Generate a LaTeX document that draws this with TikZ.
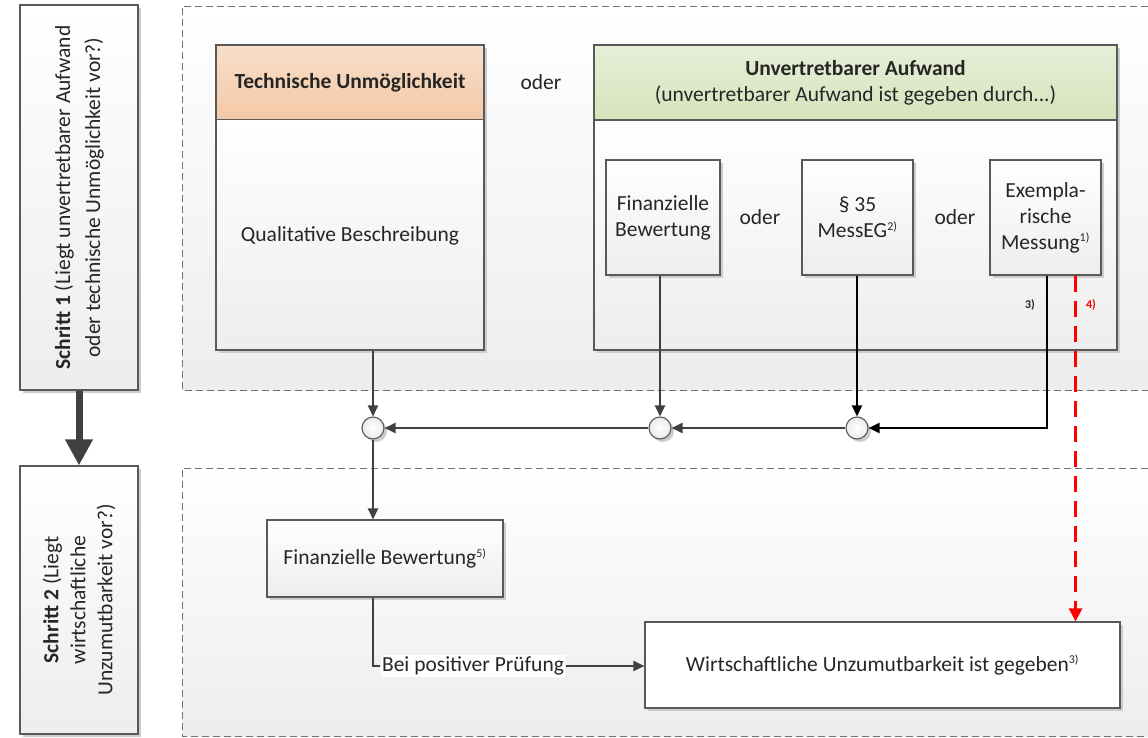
\documentclass[tikz,border=0pt]{standalone}
\usepackage{fontspec}
\setmainfont{Carlito}
\usetikzlibrary{arrows.meta,shadows,calc}
\definecolor{lc}{HTML}{404040}
\definecolor{bc}{HTML}{595959}
\definecolor{orangeh}{HTML}{F3C9A6}
\definecolor{greenh}{HTML}{D6E3BC}
\newcommand{\sups}[1]{\textsuperscript{\fontsize{12}{12}\selectfont #1}}
\begin{document}
\begin{tikzpicture}[x=1pt,y=-1pt,
  every node/.style={font=\fontsize{21.5}{26}\selectfont, text=black!85, inner sep=0pt},
  shad/.style={drop shadow={shadow xshift=3pt,shadow yshift=-3pt,fill=black!20,opacity=1}},
  box/.style={draw=bc, line width=1.1pt, top color=white, bottom color=black!7, shad, align=center},
  wbox/.style={draw=bc, line width=1.1pt, fill=white, shad, align=center},
  region/.style={draw=black!55, dashed, dash pattern=on 7pt off 4pt, line width=0.8pt},
  circ/.style={circle, draw=bc, line width=1.1pt, minimum size=22pt, inner color=white, outer color=black!8, shad},
  conn/.style={draw=lc, line width=2pt, -{Triangle[length=11pt,width=10pt]}},
  connb/.style={draw=black, line width=2.2pt, -{Triangle[length=11pt,width=10pt]}},
  plain/.style={draw=lc, line width=2pt},
  lbl/.style={fill=white, inner sep=1.5pt}
]
\useasboundingbox (0,0) rectangle (1148,738);
\fill[white] (0,0) rectangle (1148,738);

% dashed regions
\shade[top color=white, bottom color=black!7] (182,6) rectangle (1148,390);
\draw[region] (1148,6) -- (182,6) -- (182,390) -- (1148,390);
\shade[top color=white, bottom color=black!7] (182,468) rectangle (1148,736);
\draw[region] (1148,468) -- (182,468) -- (182,736) -- (1148,736);

% step boxes
\node[box, minimum width=118pt, minimum height=385pt] (s1) at (79,197.5) {};
\node[rotate=90, align=center, font=\fontsize{21.5}{30}\selectfont] (s1t) at (s1.center) {\textbf{Schritt 1} (Liegt unvertretbarer Aufwand\\oder technische Unmöglichkeit vor?)};
\node[box, minimum width=118pt, minimum height=268pt] (s2) at (79,600) {};
\node[rotate=90, align=center, font=\fontsize{21.5}{27}\selectfont] (s2t) at (s2.center) {\textbf{Schritt 2} (Liegt\\wirtschaftliche\\Unzumutbarkeit vor?)};
\draw[draw=lc, line width=7pt, -{Triangle[length=26pt,width=26pt]}] (s1.south) -- (s2.north);

% Technische Unmoeglichkeit
\node[wbox, minimum width=268pt, minimum height=305pt] (tu) at (350,197.5) {};
\node[draw=bc, line width=1.1pt, top color=orangeh!60, bottom color=orangeh, minimum width=268pt, minimum height=75pt, font=\fontsize{21.5}{26}\selectfont\bfseries] (tuh) at (350,82.5) {Technische Unmöglichkeit};
\node[minimum width=268pt, minimum height=230pt, top color=white, bottom color=black!7] (tub) at (350,235.5) {Qualitative Beschreibung};
\draw[draw=bc, line width=1.1pt] (216,45) rectangle (484,350);

\node (o1) at (541,82) {oder};

% Unvertretbarer Aufwand
\node[wbox, minimum width=523pt, minimum height=305pt] (ua) at (855.5,197.5) {};
\node[minimum width=523pt, minimum height=230pt, top color=white, bottom color=black!7] (uab) at (855.5,235.5) {};
\node[draw=bc, line width=1.1pt, top color=greenh!60, bottom color=greenh, minimum width=523pt, minimum height=75pt, align=center] (uah) at (855.5,82.5) {\textbf{Unvertretbarer Aufwand}\\(unvertretbarer Aufwand ist gegeben durch...)};
\draw[draw=bc, line width=1.1pt] (594,45) rectangle (1117,350);

\node[box, minimum width=114pt, minimum height=115pt] (fb) at (663,217.5) {Finanzielle\\Bewertung};
\node (o2) at (760,217) {oder};
\node[box, minimum width=111pt, minimum height=115pt] (ms) at (857.5,217.5) {§ 35\\MessEG\sups{2)}};
\node (o3) at (955,217) {oder};
\node[box, minimum width=111pt, minimum height=115pt] (em) at (1045.5,217.5) {Exempla-\\rische\\Messung\sups{1)}};

% circles
\node[circ] (c1) at (373,428) {};
\node[circ] (c2) at (660,428) {};
\node[circ] (c3) at (857,428) {};

\draw[conn] (c1 |- tub.south) -- (c1);
\draw[conn] (c2 |- fb.south) -- (c2);
\draw[connb] (c3 |- ms.south) -- (c3);
\draw[connb] ($(em.south)+(1.5,0)$) |- (c3);
\draw[conn] (c3) -- (c2);
\draw[conn] (c2) -- (c1);

\node[font=\fontsize{12}{12}\selectfont\bfseries] (l3) at (1030,305) {3)};
\node[font=\fontsize{12}{12}\selectfont\bfseries, text=red] (l4) at (1091,305) {4)};

% step 2 boxes
\node[box, minimum width=236pt, minimum height=77pt] (fb2) at (385,558.5) {Finanzielle Bewertung\sups{5)}};
\node[wbox, minimum width=475pt, minimum height=86pt] (wu) at (882.5,665) {Wirtschaftliche Unzumutbarkeit ist gegeben\sups{3)}};

\draw[conn] (c1) -- (c1 |- fb2.north);
\node[lbl] (bp) at (473,666) {Bei positiver Prüfung};
\draw[plain] (fb2.south -| c1) |- (bp.west);
\draw[conn] (bp.east) -- (wu.west |- bp);

\coordinate (r0) at ($(em.south east)+(-26,0)$);
\draw[red, line width=2.5pt, dash pattern=on 16pt off 9pt, -{Triangle[length=13pt,width=13pt]}] (r0) -- (r0 |- wu.north);
\end{tikzpicture}
\end{document}
